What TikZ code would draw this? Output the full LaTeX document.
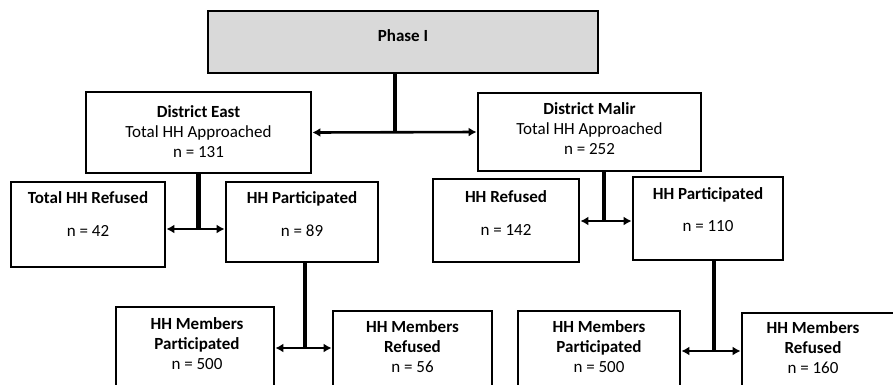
\documentclass[tikz,border=0pt]{standalone}
\usepackage{fontspec}
\setmainfont{Carlito}
\usetikzlibrary{arrows.meta}
\definecolor{phasegray}{RGB}{217,217,217}
\tikzset{
  box/.style={draw, line width=2.8pt, inner sep=0pt},
  txt/.style={align=center, font=\fontsize{17}{20}\selectfont, inner sep=0pt},
  stem/.style={line width=4.4pt},
  link/.style={line width=2.6pt, {Latex[length=8pt,width=9pt]}-{Latex[length=8pt,width=9pt]}},
}
\begin{document}
\begin{tikzpicture}[x=1pt,y=-1pt]
  \useasboundingbox (0,0) rectangle (893,384);
  \clip (0,0) rectangle (893,384);
  % boxes
  \node[box, fill=phasegray, minimum width=390, minimum height=62](PHASE) at (403,42) {};
  \node[box, minimum width=225, minimum height=81](EAST) at (198.5,132.5) {};
  \node[box, minimum width=223, minimum height=78](MALIR) at (589.5,132) {};
  \node[box, minimum width=154, minimum height=85](EREF) at (88,224.5) {};
  \node[box, minimum width=152, minimum height=80](EPART) at (302,222) {};
  \node[box, minimum width=146, minimum height=83](MREF) at (506,220.5) {};
  \node[box, minimum width=150, minimum height=83](MPART) at (708,218.5) {};
  \node[box, minimum width=158, minimum height=93](EMPART) at (195,353.5) {};
  \node[box, minimum width=159, minimum height=89](EMREF) at (412.5,355.5) {};
  \node[box, minimum width=162, minimum height=89](MMPART) at (599,355.5) {};
  \node[box, minimum width=168, minimum height=87](MMREF) at (826,356.5) {};
  % texts
  \node[txt](PHASET) at ([yshift=-26]PHASE.north) {\textbf{Phase I}};
  \node[txt](EASTT) at ([yshift=-41]EAST.north) {\textbf{District East}\\Total HH Approached\\n = 131};
  \node[txt](MALIRT) at ([yshift=-37]MALIR.north) {\textbf{District Malir}\\Total HH Approached\\n = 252};
  \node[txt](EREFT) at ([yshift=-33.5]EREF.north) {\textbf{Total HH Refused}\\[13pt]n = 42};
  \node[txt](EPARTT) at ([yshift=-33.5]EPART.north) {\textbf{HH Participated}\\[13pt]n = 89};
  \node[txt](MREFT) at ([yshift=-35.5]MREF.north) {\textbf{HH Refused}\\[13pt]n = 142};
  \node[txt](MPARTT) at ([yshift=-34]MPART.north) {\textbf{HH Participated}\\[12pt]n = 110};
  \node[txt](EMPARTT) at ([xshift=2,yshift=-37.5]EMPART.north) {\textbf{HH Members}\\\textbf{Participated}\\n = 500};
  \node[txt](EMREFT) at ([yshift=-37]EMREF.north) {\textbf{HH Members}\\\textbf{Refused}\\n = 56};
  \node[txt](MMPARTT) at ([yshift=-36.5]MMPART.north) {\textbf{HH Members}\\\textbf{Participated}\\n = 500};
  \node[txt](MMREFT) at ([xshift=-13,yshift=-36]MMREF.north) {\textbf{HH Members}\\\textbf{Refused}\\n = 160};
  % split points
  \coordinate (SPLITP) at (395,133);
  \coordinate (SPLITE) at (198.5,229);
  \coordinate (SPLITM) at (604,221);
  \coordinate (SPLITE2) at (305,348);
  \coordinate (SPLITM2) at (714,351);
  % connectors
  \draw[stem] (PHASE.south -| SPLITP) -- (SPLITP);
  \draw[link] (EAST.east) -- (MALIR.west);
  \draw[stem] (EAST.south -| SPLITE) -- (SPLITE);
  \draw[link] (EREF.east |- SPLITE) -- (EPART.west |- SPLITE);
  \draw[stem] (MALIR.south -| SPLITM) -- (SPLITM);
  \draw[link] (MREF.east |- SPLITM) -- (MPART.west |- SPLITM);
  \draw[stem] (EPART.south -| SPLITE2) -- (SPLITE2);
  \draw[link] (EMPART.east |- SPLITE2) -- (EMREF.west |- SPLITE2);
  \draw[stem] (MPART.south -| SPLITM2) -- (SPLITM2);
  \draw[link] (MMPART.east |- SPLITM2) -- (MMREF.west |- SPLITM2);
\end{tikzpicture}
\end{document}
